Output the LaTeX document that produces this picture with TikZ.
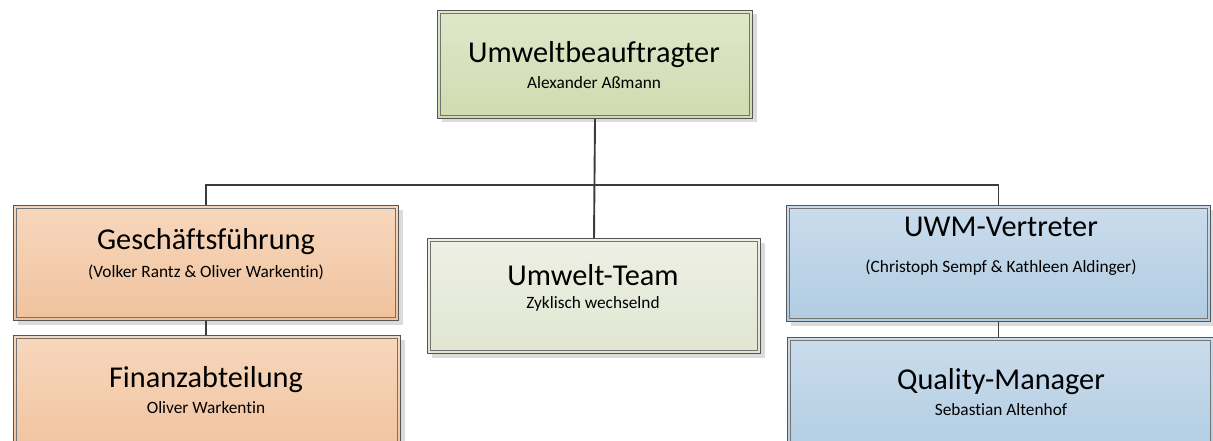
\documentclass[tikz,border=0pt]{standalone}
\usepackage{fontspec}
\setmainfont{Carlito}[Ligatures={NoCommon}]
\usetikzlibrary{shadows}
\definecolor{grnT}{RGB}{223,231,202}
\definecolor{grnB}{RGB}{208,219,176}
\definecolor{pgrnT}{RGB}{237,240,228}
\definecolor{pgrnB}{RGB}{225,230,210}
\definecolor{orT}{RGB}{247,215,188}
\definecolor{orB}{RGB}{240,194,158}
\definecolor{blT}{RGB}{202,220,236}
\definecolor{blB}{RGB}{177,204,226}
\definecolor{edgeC}{RGB}{85,85,85}
\definecolor{innerC}{RGB}{115,115,115}
\definecolor{connC}{RGB}{60,60,60}
\tikzset{
  orgbox/.style={rectangle, draw=edgeC, line width=1pt, inner sep=0pt, anchor=north west,
    drop shadow={shadow xshift=4pt, shadow yshift=-4pt, fill=black!14, opacity=1},
    path picture={\draw[innerC, line width=1pt]
      ([shift={(3pt,-3pt)}]path picture bounding box.north west) rectangle
      ([shift={(-3pt,3pt)}]path picture bounding box.south east);}},
  green/.style={top color=grnT, bottom color=grnB},
  pale/.style={top color=pgrnT, bottom color=pgrnB},
  orange/.style={top color=orT, bottom color=orB},
  blue/.style={top color=blT, bottom color=blB},
  ttl/.style={inner sep=0pt, font=\fontsize{30.3}{35}\selectfont},
  sub/.style={inner sep=0pt, font=\fontsize{17.3}{20}\selectfont},
  conn/.style={draw=connC, line width=1.9pt}
}
\begin{document}
\begin{tikzpicture}[x=1pt, y=-1pt]
\useasboundingbox (0,0) rectangle (1213,441);
% boxes
\node[orgbox, green, minimum width=315pt, minimum height=108pt] (top) at (437,10) {};
\node[orgbox, orange, minimum width=385pt, minimum height=115pt] (ge) at (13,205) {};
\node[orgbox, orange, minimum width=387pt, minimum height=125pt] (fin) at (13,335) {};
\node[orgbox, pale, minimum width=333pt, minimum height=115pt] (team) at (427,238) {};
\node[orgbox, blue, minimum width=424pt, minimum height=116pt] (uwm) at (786,205) {};
\node[orgbox, blue, minimum width=426pt, minimum height=125pt] (qm) at (787,337) {};
% connectors
\coordinate (bus) at (top.south |- 0,185);
\draw[conn] (top.south) -- (team.north);
\draw[conn] (bus) -| (ge.north);
\draw[conn] (bus) -| (uwm.north);
\draw[conn] (ge.south) -- (ge.south |- fin.north);
\draw[conn] (uwm.south) -- (uwm.south |- qm.north);
% texts
\node[ttl] (top-t) at (594,55) {Umweltbeauftragter};
\node[sub] (top-s) at (594,83) {Alexander Aßmann};
\node[ttl] (ge-t) at (206,242) {Geschäftsführung};
\node[sub] (ge-s) at (206,272) {(Volker Rantz \& Oliver Warkentin)};
\node[ttl] (fin-t) at (206,380) {Finanzabteilung};
\node[sub] (fin-s) at (206,408) {Oliver Warkentin};
\node[ttl] (team-t) at (593,275) {Umwelt-Team};
\node[sub] (team-s) at (593,304) {Zyklisch wechselnd};
\node[ttl] (uwm-t) at (1001,227) {UWM-Vertreter};
\node[sub] (uwm-s) at (1001,268) {(Christoph Sempf \& Kathleen Aldinger)};
\node[ttl] (qm-t) at (1001,382) {Quality-Manager};
\node[sub] (qm-s) at (1001,410) {Sebastian Altenhof};
\end{tikzpicture}
\end{document}
